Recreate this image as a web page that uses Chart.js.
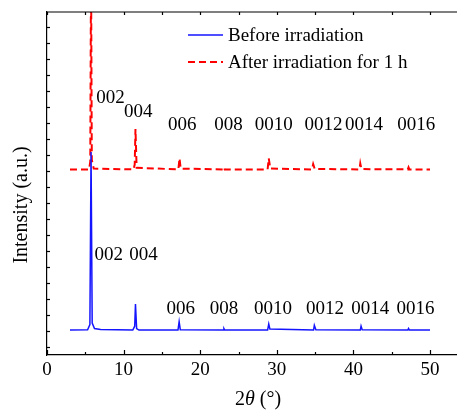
<!DOCTYPE html>
<html>
<head>
<meta charset="utf-8">
<script src="https://cdn.jsdelivr.net/npm/chart.js@4.4.0/dist/chart.umd.min.js"></script>
<style>
  html, body { margin: 0; padding: 0; background: #fff; overflow: hidden; }
  #wrap { width: 500px; height: 412px; }
</style>
</head>
<body>
<div id="wrap"><canvas id="chart1" width="500" height="412"></canvas></div>
<script>
// 2theta (deg) and intensity (a.u.)
const beforeX = [3, 5.3, 5.6, 5.75, 5.9, 6.2, 7.0, 11.2, 11.45, 11.55, 11.7, 12.0, 17.1, 17.25, 17.4, 23.0, 23.1, 23.2, 28.8, 28.95, 29.1, 34.8, 34.9, 35.1, 40.9, 41.0, 41.15, 47.1, 47.2, 47.3, 50];
const beforeY = [1060, 1070, 1400, 12190, 1500, 1150, 1100, 1060, 1300, 2690, 1150, 1060, 1060, 1580, 1080, 1060, 1150, 1060, 1060, 1440, 1120, 1060, 1360, 1080, 1060, 1310, 1080, 1060, 1160, 1060, 1060];

const afterX = [3, 5.5, 5.65, 5.75, 5.85, 6.1, 11.3, 11.45, 11.55, 11.7, 17.15, 17.3, 17.45, 23.0, 23.1, 23.2, 28.8, 28.95, 29.15, 34.6, 34.75, 34.95, 40.8, 40.9, 41.05, 47.1, 47.2, 47.3, 50];
const afterY = [11100, 11100, 11600, 24000, 11700, 11150, 11100, 11400, 13630, 11200, 11100, 11790, 11150, 11100, 11230, 11100, 11100, 11790, 11150, 11100, 11430, 11130, 11100, 11470, 11120, 11100, 11230, 11100, 11100];

// peak index labels
const peakLabels = ['002', '004', '006', '008', '0010', '0012', '0014', '0016'];
const afterLabelX = [8.3, 11.9, 17.65, 23.7, 29.6, 36.1, 41.4, 48.2];
const afterLabelY = [15560, 14700, 13875, 13875, 13875, 13875, 13875, 13875];
const beforeLabelX = [8.05, 12.6, 17.45, 23.1, 29.5, 36.3, 42.2, 48.1];
const beforeLabelY = [5750, 5750, 2375, 2375, 2375, 2375, 2375, 2375];

const seriesNames = ['Before irradiation', 'After irradiation for 1 h'];

const serif = "'Liberation Serif', 'Times New Roman', serif";

function toPoints(xs, ys) {
  let pts = [];
  for (let i = 0; i < xs.length; i++) {
    pts.push({x: xs[i], y: ys[i]});
  }
  return pts;
}

const extras = {
  id: 'extras',
  afterDraw(chart) {
    const ctx = chart.ctx;
    const area = chart.chartArea;
    const xs = chart.scales.x;
    const ys = chart.scales.y;
    ctx.save();
    ctx.strokeStyle = '#000';
    ctx.lineWidth = 1.2;

    // top frame line
    ctx.beginPath();
    ctx.moveTo(area.left, area.top);
    ctx.lineTo(chart.width, area.top);
    ctx.stroke();

    // x ticks, inward, bottom and top
    for (let v = 0; v <= 55; v += 5) {
      const px = Math.round(xs.getPixelForValue(v)) + 0.5;
      const len = v % 10 === 0 ? 5 : 3;
      ctx.beginPath();
      ctx.moveTo(px, area.bottom);
      ctx.lineTo(px, area.bottom - len);
      ctx.moveTo(px, area.top);
      ctx.lineTo(px, area.top + 3);
      ctx.stroke();
    }
    // y ticks, inward
    for (let v = 0; v <= 20000; v += 1000) {
      const py = Math.round(ys.getPixelForValue(v)) + 0.5;
      ctx.beginPath();
      ctx.moveTo(area.left, py);
      ctx.lineTo(area.left + 3, py);
      ctx.stroke();
    }

    // peak labels
    ctx.fillStyle = '#000';
    ctx.font = '19px ' + serif;
    ctx.textAlign = 'center';
    ctx.textBaseline = 'middle';
    for (let i = 0; i < peakLabels.length; i++) {
      ctx.fillText(peakLabels[i], xs.getPixelForValue(afterLabelX[i]), ys.getPixelForValue(afterLabelY[i]));
      ctx.fillText(peakLabels[i], xs.getPixelForValue(beforeLabelX[i]), ys.getPixelForValue(beforeLabelY[i]));
    }

    // legend
    const lx = 188, lw = 35;
    const rows = [35, 62];
    const ds = chart.data.datasets;
    ctx.textAlign = 'left';
    for (let i = 0; i < rows.length; i++) {
      ctx.beginPath();
      ctx.strokeStyle = ds[i].borderColor;
      ctx.lineWidth = ds[i].borderWidth;
      ctx.setLineDash(ds[i].borderDash || []);
      ctx.moveTo(lx, rows[i]);
      ctx.lineTo(lx + lw, rows[i]);
      ctx.stroke();
      ctx.setLineDash([]);
      ctx.fillText(seriesNames[i], lx + lw + 5, rows[i] + 1);
    }

    // axis titles
    ctx.font = '20px ' + serif;
    ctx.textAlign = 'center';
    ctx.save();
    ctx.translate(22, 205);
    ctx.rotate(-Math.PI / 2);
    ctx.fillText('Intensity (a.u.)', 0, 0);
    ctx.restore();

    const t1 = '2', t2 = '\u03B8', t3 = ' (\u00B0)';
    ctx.font = '20px ' + serif;
    const w1 = ctx.measureText(t1).width;
    const w3 = ctx.measureText(t3).width;
    ctx.font = 'italic 20px ' + serif;
    const w2 = ctx.measureText(t2).width;
    let sx = 258 - (w1 + w2 + w3) / 2;
    ctx.textAlign = 'left';
    ctx.font = '20px ' + serif;
    ctx.fillText(t1, sx, 400);
    ctx.font = 'italic 20px ' + serif;
    ctx.fillText(t2, sx + w1, 400);
    ctx.font = '20px ' + serif;
    ctx.fillText(t3, sx + w1 + w2, 400);
    ctx.restore();
  }
};

var ctx = document.getElementById('chart1').getContext('2d');

var chart1 = new Chart(ctx, {
  type: 'line',
  data: {
    datasets: [{
      label: seriesNames[0],
      data: toPoints(beforeX, beforeY),
      borderColor: 'rgb(20, 20, 255)',
      backgroundColor: 'rgb(20, 20, 255)',
      borderWidth: 1.5,
      pointRadius: 0,
      tension: 0
    },
    {
      label: seriesNames[1],
      data: toPoints(afterX, afterY),
      borderColor: 'rgb(255, 0, 0)',
      backgroundColor: 'rgb(255, 0, 0)',
      borderWidth: 2,
      borderDash: [7, 4],
      pointRadius: 0,
      tension: 0
    }]
  },
  options: {
    responsive: false,
    animation: false,
    devicePixelRatio: 1,
    layout: {
      padding: { top: 12, right: 31.7, left: 0, bottom: 0 }
    },
    plugins: {
      legend: { display: false },
      tooltip: { enabled: false }
    },
    scales: {
      x: {
        type: 'linear',
        min: 0,
        max: 55,
        grid: { display: false, drawTicks: false },
        border: { color: '#000', width: 1.2 },
        ticks: {
          stepSize: 10,
          includeBounds: false,
          padding: 4,
          color: '#000',
          font: { family: serif, size: 19 }
        },
        afterFit: function(scale) { scale.height = 57; }
      },
      y: {
        type: 'linear',
        min: -500,
        max: 20937,
        grid: { display: false, drawTicks: false },
        border: { color: '#000', width: 1.2 },
        ticks: { display: false },
        afterFit: function(scale) { scale.width = 47; }
      }
    }
  },
  plugins: [extras]
});
</script>
</body>
</html>
